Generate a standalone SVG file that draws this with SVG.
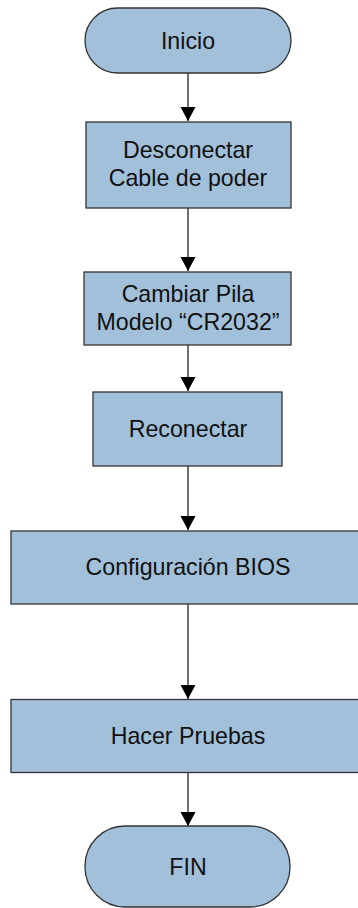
<svg xmlns="http://www.w3.org/2000/svg" width="358" height="908" viewBox="0 0 358 908">
<style>
.node{fill:#a2c0d9;stroke:#333;stroke-width:1.3}
.lbl{font-family:"Liberation Sans",Arial,sans-serif;font-size:23.2px;fill:#111;text-anchor:middle}
.edge{stroke:#111;stroke-width:1.2;fill:none}
</style>
<defs>
<marker id="arr" markerUnits="userSpaceOnUse" markerWidth="16" markerHeight="16" viewBox="0 -8 16 16" refX="14" refY="0" orient="auto">
<path d="M0,-7.5 L14,0 L0,7.5 Z" fill="#000"/>
</marker>
</defs>
<rect width="358" height="908" fill="#fff"/>
<g id="connectors">
<line class="edge" x1="188" y1="73" x2="188" y2="121" marker-end="url(#arr)"/>
<line class="edge" x1="188" y1="208" x2="188" y2="271" marker-end="url(#arr)"/>
<line class="edge" x1="188" y1="345" x2="188" y2="391" marker-end="url(#arr)"/>
<line class="edge" x1="188" y1="466" x2="188" y2="530" marker-end="url(#arr)"/>
<line class="edge" x1="188" y1="604" x2="188" y2="699" marker-end="url(#arr)"/>
<line class="edge" x1="188" y1="773" x2="188" y2="826" marker-end="url(#arr)"/>
</g>
<g id="inicio">
<rect class="node" x="85" y="8" width="206" height="65" rx="32.5" ry="32.5"/>
<text class="lbl" x="188" y="48.5">Inicio</text>
</g>
<g id="desconectar">
<rect class="node" x="86" y="122" width="205" height="86"/>
<text class="lbl" x="188" y="158">Desconectar</text>
<text class="lbl" x="188" y="185.5">Cable de poder</text>
</g>
<g id="cambiar">
<rect class="node" x="84" y="272" width="207" height="73"/>
<text class="lbl" x="188" y="302">Cambiar Pila</text>
<text class="lbl" x="188" y="329.5">Modelo “CR2032”</text>
</g>
<g id="reconectar">
<rect class="node" x="93" y="392" width="189" height="74"/>
<text class="lbl" x="188" y="436.5">Reconectar</text>
</g>
<g id="config">
<rect class="node" x="11" y="531" width="360" height="73"/>
<text class="lbl" x="188" y="574.5">Configuración BIOS</text>
</g>
<g id="pruebas">
<rect class="node" x="11" y="699.5" width="360" height="73"/>
<text class="lbl" x="188" y="743.5">Hacer Pruebas</text>
</g>
<g id="fin">
<rect class="node" x="85" y="826" width="205" height="81" rx="40" ry="40"/>
<text class="lbl" x="188" y="875">FIN</text>
</g>
</svg>
